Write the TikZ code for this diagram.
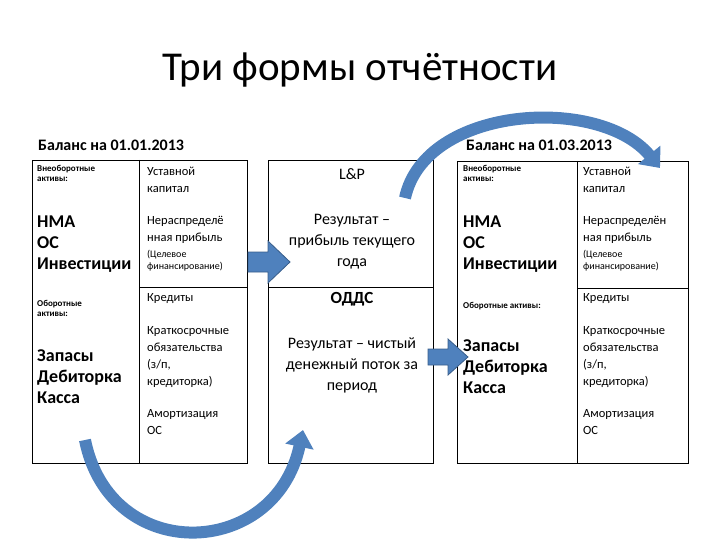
\documentclass[tikz,border=0pt]{standalone}
\usepackage{fontspec}
\setmainfont{Carlito}
\usetikzlibrary{arrows.meta}
\definecolor{ablue}{HTML}{4F81BD}
\definecolor{adark}{HTML}{385D8A}
\tikzset{
 box/.style={draw=black,line width=0.8pt},
 small/.style={anchor=north west,font=\fontsize{9}{10}\selectfont\bfseries,align=left,inner sep=0pt},
 big/.style={anchor=north west,font=\fontsize{18}{21}\selectfont\bfseries,align=left,inner sep=0pt},
 reg/.style={anchor=north west,font=\fontsize{12.5}{17}\selectfont,align=left,inner sep=0pt},
 tiny/.style={anchor=north west,font=\fontsize{10}{12}\selectfont,align=left,inner sep=0pt},
 mid/.style={anchor=north,font=\fontsize{16}{21}\selectfont,align=center,inner sep=0pt},
 hdr/.style={anchor=west,font=\fontsize{16}{18}\selectfont\bfseries,inner sep=0pt},
 blockarrow/.style={draw=adark,fill=ablue,line width=0.8pt},
 curvearrow/.style={draw=ablue,line width=12pt,-{Triangle[width=28pt,length=17pt]}}
}
\begin{document}
\begin{tikzpicture}[x=1pt,y=-1pt]
\useasboundingbox (0,0) rectangle (720,540);
\node[font=\fontsize{41}{44}\selectfont] (title) at (360,70) {Три формы отчётности};
\node[hdr] (h1) at (38,145) {Баланс на 01.01.2013};
\node[hdr] (h2) at (466,145) {Баланс на 01.03.2013};
% left table
\draw[box] (32,160) rectangle (247,463);
\draw[box] (139,160) -- (139,463);
\draw[box] (139,287) -- (247,287);
\node[small] (a1) at (37,165) {Внеоборотные\\активы:};
\node[big] (a2) at (37,216) {НМА\\ОС\\Инвестиции};
\node[small] (a3) at (37,300) {Оборотные\\активы:};
\node[big] (a4) at (37,350) {Запасы\\Дебиторка\\Касса};
\node[reg] (b1) at (147,167) {Уставной\\капитал};
\node[reg] (b2) at (147,216) {Нераспределё\\нная прибыль};
\node[tiny] (b3) at (147,250) {(Целевое\\финансирование)};
\node[reg] (b4) at (147,293) {Кредиты};
\node[reg] (b5) at (147,326) {Краткосрочные\\обязательства\\(з/п,\\кредиторка)};
\node[reg] (b6) at (147,409) {Амортизация\\ОС};
% middle
\draw[box] (268,160) rectangle (433,463);
\draw[box] (268,287) -- (433,287);
\node[mid] (m1) at (352,168) {L\&P};
\node[mid] (m2) at (352,214) {Результат –\\прибыль текущего\\года};
\node[mid,font=\fontsize{17}{18}\selectfont\bfseries] (m3) at (352,292) {ОДДС};
\node[mid] (m4) at (352,337) {Результат – чистый\\денежный поток за\\период};
% right table
\draw[box] (457,161) rectangle (688,463);
\draw[box] (577,161) -- (577,463);
\draw[box] (577,288) -- (688,288);
\node[small] (c1) at (463,165) {Внеоборотные\\активы:};
\node[big] (c2) at (463,216) {НМА\\ОС\\Инвестиции};
\node[small] (c3) at (463,302) {Оборотные активы:};
\node[big] (c4) at (463,340) {Запасы\\Дебиторка\\Касса};
\node[reg] (d1) at (583,167) {Уставной\\капитал};
\node[reg] (d2) at (583,216) {Нераспределён\\ная прибыль};
\node[tiny] (d3) at (583,250) {(Целевое\\финансирование)};
\node[reg] (d4) at (583,293) {Кредиты};
\node[reg] (d5) at (583,326) {Краткосрочные\\обязательства\\(з/п,\\кредиторка)};
\node[reg] (d6) at (583,409) {Амортизация\\ОС};
% block arrows
\draw[blockarrow] (248,252) -- (268,252) -- (268,241) -- (290,262) -- (268,283) -- (268,272) -- (248,272) -- cycle;
\draw[blockarrow] (428,349) -- (448,349) -- (448,339) -- (468,357) -- (448,375) -- (448,365) -- (428,365) -- cycle;
% curved arrows
\coordinate (s1) at (405,198);
\coordinate (e1) at (660,168);
\draw[curvearrow] (s1) .. controls (425,105) and (600,95) .. (e1);
\coordinate (s2) at (85,440);
\coordinate (e2) at (303,430);
\draw[curvearrow] (s2) .. controls (110,565) and (275,560) .. (e2);
\end{tikzpicture}
\end{document}
